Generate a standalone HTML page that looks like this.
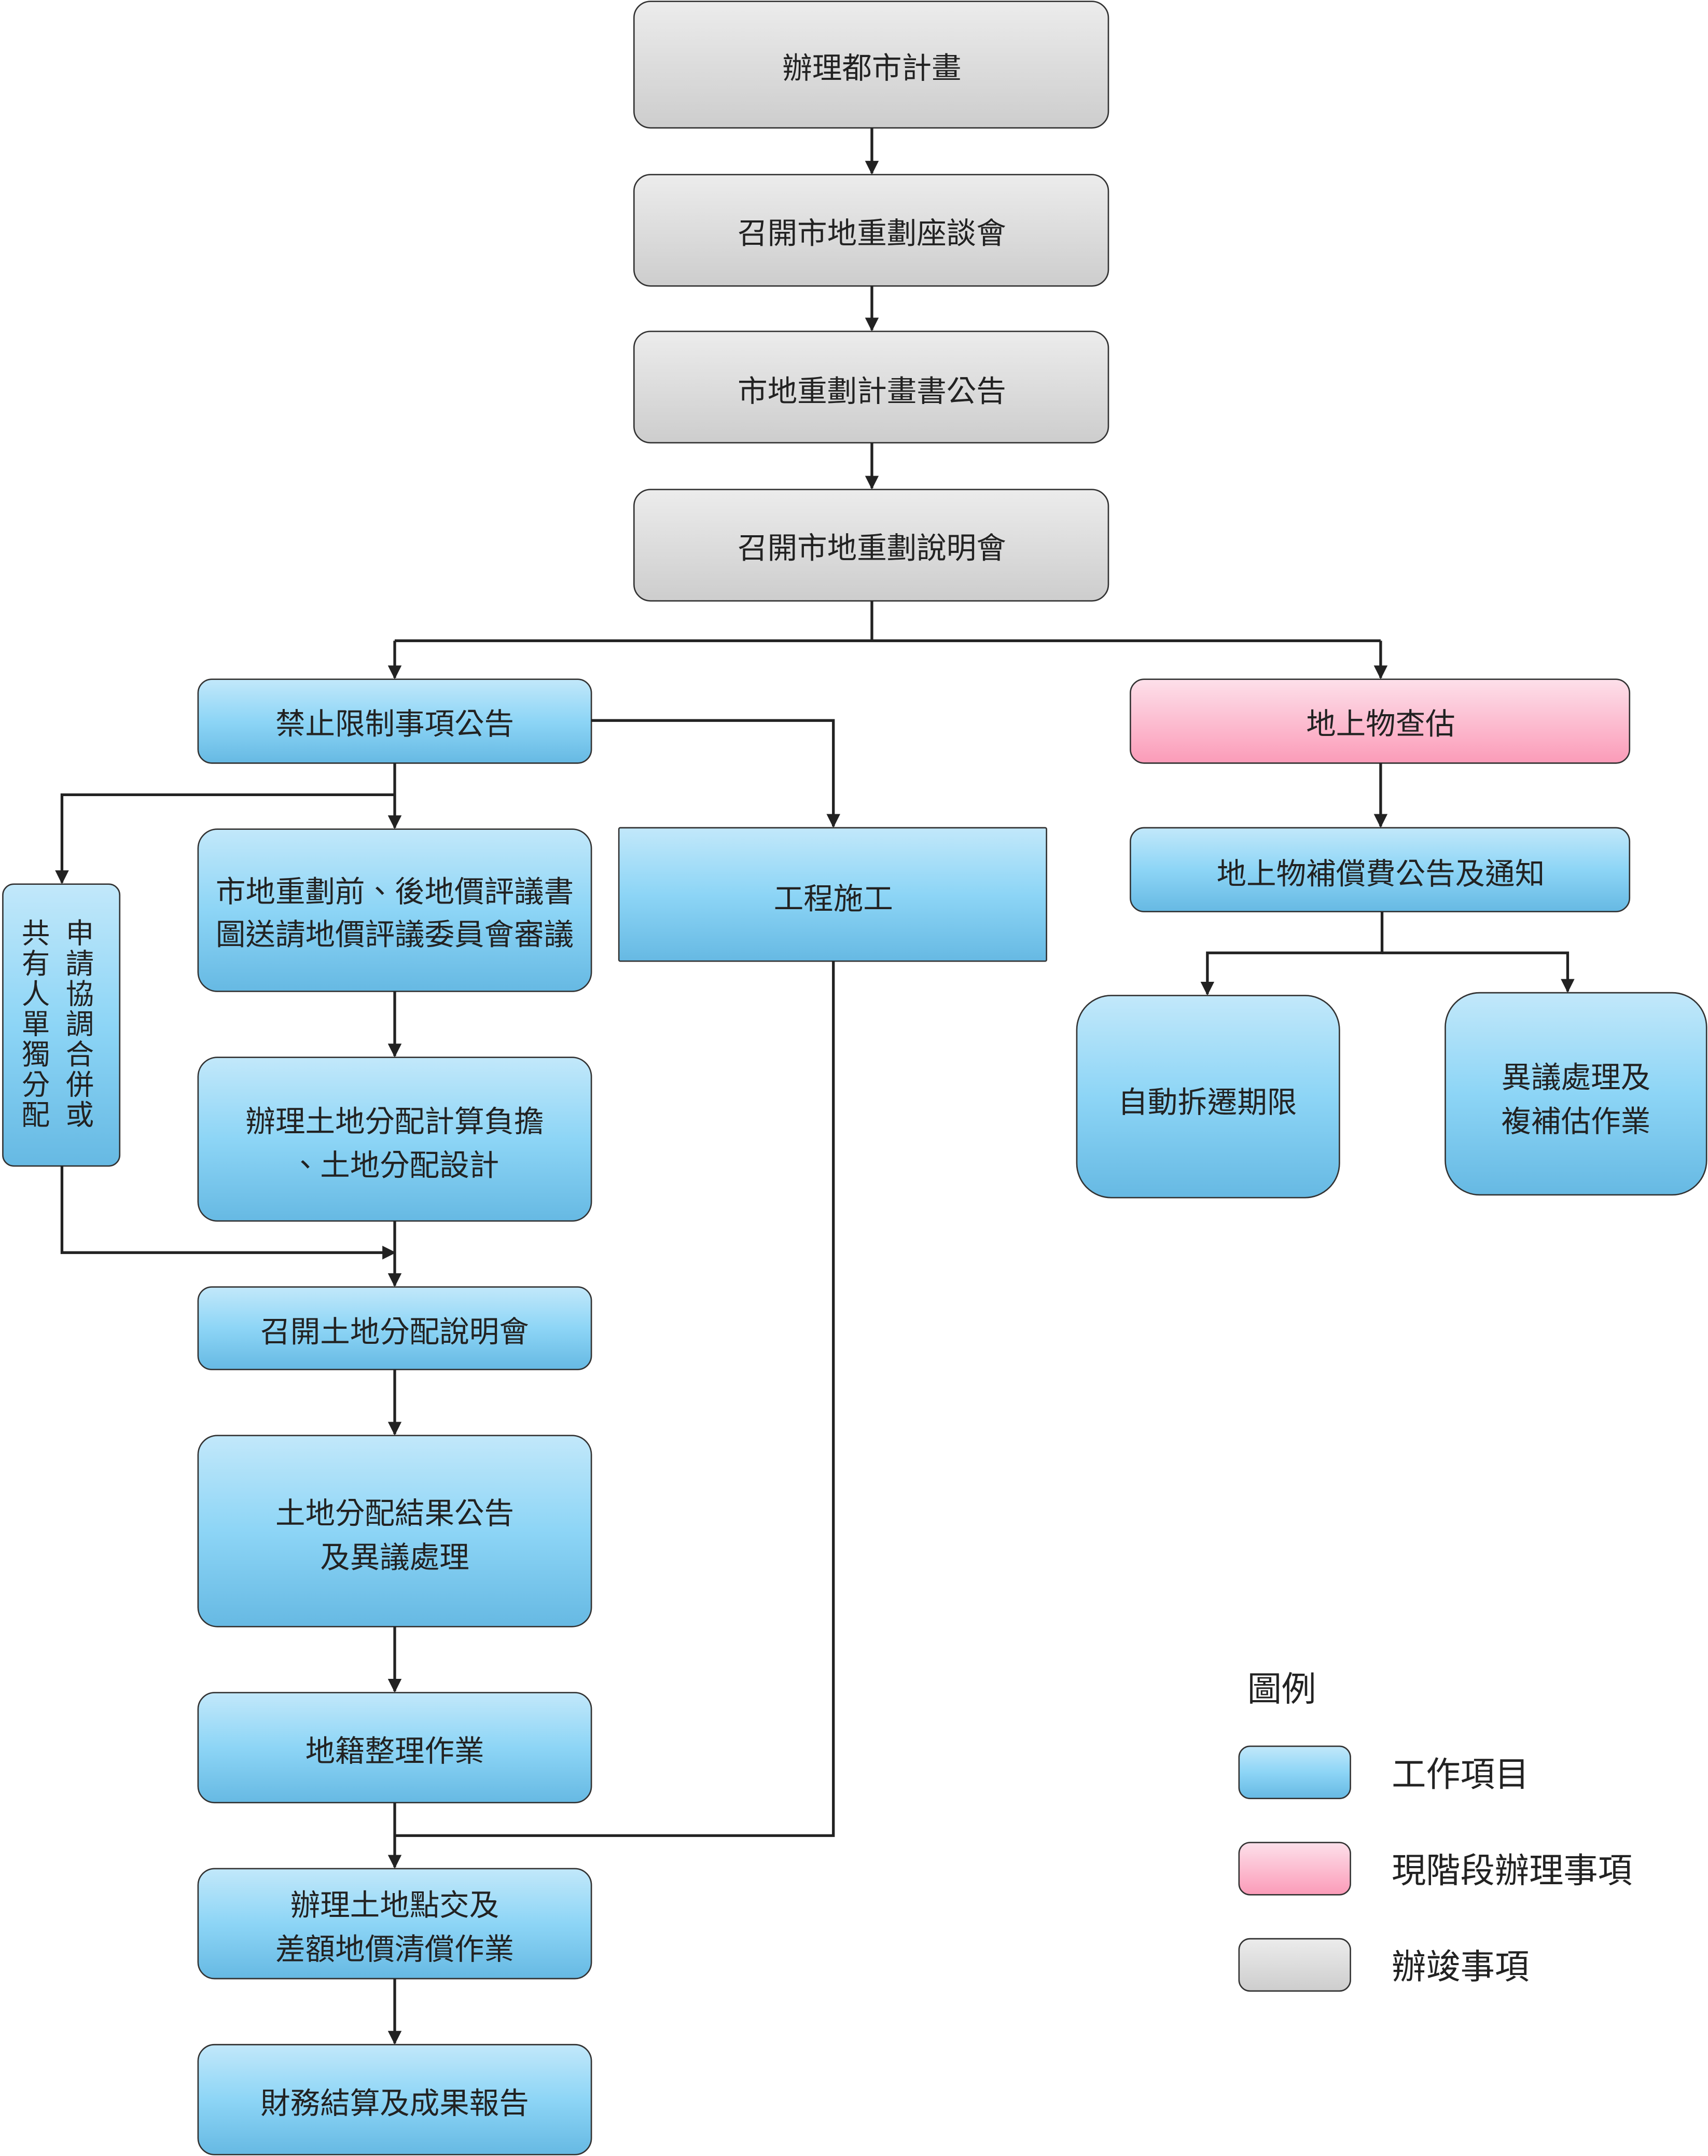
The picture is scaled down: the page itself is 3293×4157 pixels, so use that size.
<!DOCTYPE html>
<html><head><meta charset="utf-8">
<style>
html,body{margin:0;padding:0;background:#fff;}
svg{display:block;}
text{font-family:"Liberation Sans","Noto Sans CJK TC","Noto Sans CJK SC",sans-serif;fill:#222;}
</style></head>
<body>
<svg width="3293" height="4157" viewBox="0 0 1242 1568" xmlns="http://www.w3.org/2000/svg">
<defs>
<linearGradient id="b" x1="0" y1="0" x2="0" y2="1">
<stop offset="0" stop-color="#c2e8fa"/><stop offset="0.5" stop-color="#8dd5f6"/><stop offset="1" stop-color="#66b9e3"/></linearGradient>
<linearGradient id="p" x1="0" y1="0" x2="0" y2="1">
<stop offset="0" stop-color="#fde0ea"/><stop offset="1" stop-color="#fb9bb8"/></linearGradient>
<linearGradient id="g" x1="0" y1="0" x2="0" y2="1">
<stop offset="0" stop-color="#ececec"/><stop offset="1" stop-color="#cdcdcd"/></linearGradient>
<marker id="a" markerWidth="10" markerHeight="10" refX="9" refY="5" orient="auto" markerUnits="userSpaceOnUse">
<path d="M0,0 L10,5 L0,10 Z" fill="#222"/></marker>
</defs>
<g stroke="#333" stroke-width="1">
<rect x="461" y="1" width="345" height="92" rx="12" fill="url(#g)"/>
<rect x="461" y="127" width="345" height="81" rx="12" fill="url(#g)"/>
<rect x="461" y="241" width="345" height="81" rx="12" fill="url(#g)"/>
<rect x="461" y="356" width="345" height="81" rx="12" fill="url(#g)"/>
<rect x="144" y="494" width="286" height="61" rx="10" fill="url(#b)"/>
<rect x="822" y="494" width="363" height="61" rx="10" fill="url(#p)"/>
<rect x="450" y="602" width="311" height="97" rx="1" fill="url(#b)"/>
<rect x="144" y="603" width="286" height="118" rx="14" fill="url(#b)"/>
<rect x="2" y="643" width="85" height="205" rx="8" fill="url(#b)"/>
<rect x="144" y="769" width="286" height="119" rx="14" fill="url(#b)"/>
<rect x="144" y="936" width="286" height="60" rx="10" fill="url(#b)"/>
<rect x="144" y="1044" width="286" height="139" rx="14" fill="url(#b)"/>
<rect x="144" y="1231" width="286" height="80" rx="12" fill="url(#b)"/>
<rect x="144" y="1359" width="286" height="80" rx="12" fill="url(#b)"/>
<rect x="144" y="1487" width="286" height="80" rx="12" fill="url(#b)"/>
<rect x="822" y="602" width="363" height="61" rx="10" fill="url(#b)"/>
<rect x="783" y="724" width="191" height="147" rx="25" fill="url(#b)"/>
<rect x="1051" y="722" width="190" height="147" rx="25" fill="url(#b)"/>
<rect x="901" y="1270" width="81" height="38" rx="8" fill="url(#b)"/>
<rect x="901" y="1340" width="81" height="38" rx="8" fill="url(#p)"/>
<rect x="901" y="1410" width="81" height="38" rx="8" fill="url(#g)"/>
</g>
<g stroke="#222" stroke-width="2" fill="none">
<path d="M634,93 V126" marker-end="url(#a)"/>
<path d="M634,208 V240" marker-end="url(#a)"/>
<path d="M634,322 V355" marker-end="url(#a)"/>
<path d="M634,437 V466"/>
<path d="M287,466 H1004"/>
<path d="M287,466 V493" marker-end="url(#a)"/>
<path d="M1004,466 V493" marker-end="url(#a)"/>
<path d="M430,524 H606 V601" marker-end="url(#a)"/>
<path d="M287,555 V602" marker-end="url(#a)"/>
<path d="M287,578 H45 V642" marker-end="url(#a)"/>
<path d="M287,721 V768" marker-end="url(#a)"/>
<path d="M287,888 V935" marker-end="url(#a)"/>
<path d="M45,848 V911 H287" marker-end="url(#a)"/>
<path d="M287,996 V1043" marker-end="url(#a)"/>
<path d="M287,1183 V1230" marker-end="url(#a)"/>
<path d="M287,1311 V1358" marker-end="url(#a)"/>
<path d="M606,699 V1335 H287"/>
<path d="M287,1439 V1486" marker-end="url(#a)"/>
<path d="M1004,555 V601" marker-end="url(#a)"/>
<path d="M1005,663 V693 H878 V723" marker-end="url(#a)"/>
<path d="M1005,693 H1140 V721" marker-end="url(#a)"/>
</g>
<g font-size="21.7" text-anchor="middle">
<text x="634" y="57">辦理都市計畫</text>
<text x="634" y="177">召開市地重劃座談會</text>
<text x="634" y="292">市地重劃計畫書公告</text>
<text x="634" y="406">召開市地重劃說明會</text>
<text x="287" y="534">禁止限制事項公告</text>
<text x="1004" y="534">地上物查估</text>
<text x="606" y="661">工程施工</text>
<text x="287" y="656">市地重劃前、後地價評議書</text>
<text x="287" y="687">圖送請地價評議委員會審議</text>
<text x="287" y="823">辦理土地分配計算負擔</text>
<text x="287" y="855">、土地分配設計</text>
<text x="287" y="976">召開土地分配說明會</text>
<text x="287" y="1108">土地分配結果公告</text>
<text x="287" y="1140">及異議處理</text>
<text x="287" y="1281">地籍整理作業</text>
<text x="287" y="1393">辦理土地點交及</text>
<text x="287" y="1425">差額地價清償作業</text>
<text x="287" y="1537">財務結算及成果報告</text>
<text x="1004" y="643">地上物補償費公告及通知</text>
<text x="878" y="809">自動拆遷期限</text>
<text x="1146" y="791">異議處理及</text>
<text x="1146" y="823">複補估作業</text>
</g>
<g font-size="20.5" text-anchor="middle">
<text x="58" y="686">申</text><text x="58" y="708">請</text><text x="58" y="730">協</text><text x="58" y="752">調</text><text x="58" y="774">合</text><text x="58" y="796">併</text><text x="58" y="818">或</text>
<text x="26" y="686">共</text><text x="26" y="708">有</text><text x="26" y="730">人</text><text x="26" y="752">單</text><text x="26" y="774">獨</text><text x="26" y="796">分</text><text x="26" y="818">配</text>
</g>
<g font-size="25">
<text x="907" y="1237">圖例</text>
<text x="1012" y="1299">工作項目</text>
<text x="1012" y="1369">現階段辦理事項</text>
<text x="1012" y="1439">辦竣事項</text>
</g>
</svg>
</body></html>
